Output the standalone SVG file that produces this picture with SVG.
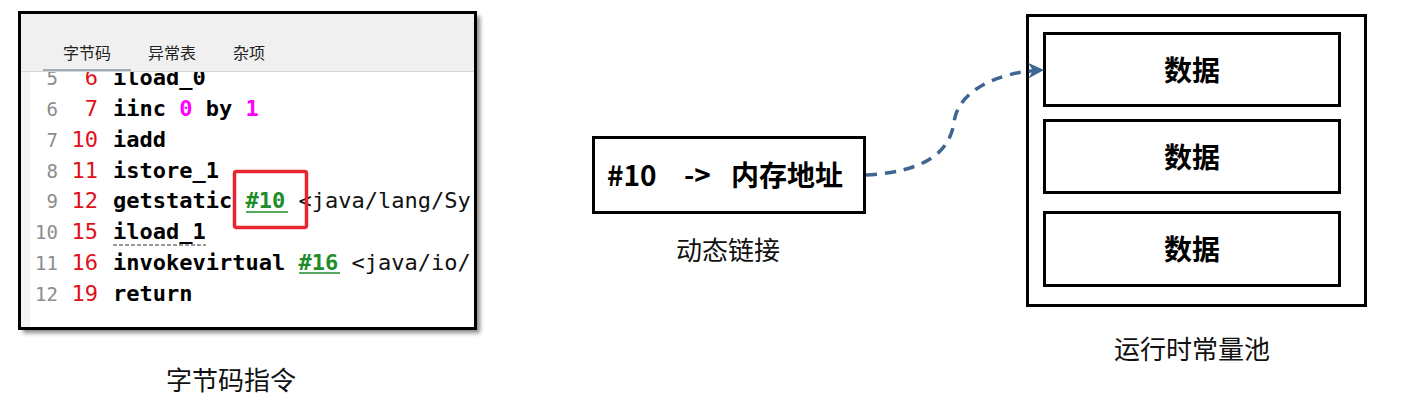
<svg xmlns="http://www.w3.org/2000/svg" width="1410" height="408" viewBox="0 0 1410 408">
<style>
.mono{font-family:"DejaVu Sans Mono","Liberation Mono",monospace;font-size:22px}
.ln{fill:#8c8c8c;font-size:19px}
.off{fill:#e0101a}
.ins{font-weight:bold;fill:#000}
.num{fill:#ff00ff}
.ref{fill:#1e8c2a}
.plain{font-weight:normal;fill:#111}
.tab{font-family:"Noto Sans CJK SC","Noto Sans",sans-serif;font-size:16px;fill:#222}
.cap{font-family:"Noto Sans CJK SC","Noto Sans",sans-serif;font-size:26px;fill:#111}
.bold{font-family:"Noto Sans CJK SC","Noto Sans",sans-serif;font-size:28px;font-weight:bold;fill:#000}
.box{fill:#fff;stroke:#000;stroke-width:3}
</style>
<defs>
<filter id="sh" x="-5%" y="-5%" width="115%" height="115%"><feGaussianBlur stdDeviation="2"/></filter>
<clipPath id="codeclip"><rect x="30" y="72" width="442" height="255"/></clipPath>
<marker id="ah" viewBox="0 0 16 16" markerWidth="16" markerHeight="16" refX="15" refY="8" orient="auto" markerUnits="userSpaceOnUse">
<path d="M0,0 L16,8 L0,16 L5,8 Z" fill="#3f6592"/>
</marker>
</defs>

<g id="bytecode-panel">
<rect x="23" y="16" width="457" height="317" fill="#888" filter="url(#sh)"/>
<rect x="19.5" y="12.5" width="456" height="316" fill="#fff" stroke="#000" stroke-width="3"/>
<rect x="21" y="14" width="453" height="57" fill="#f0f0f0"/>
<line x1="21" y1="71.5" x2="474" y2="71.5" stroke="#d6d6d6" stroke-width="1"/>
<rect x="21" y="72" width="9" height="255" fill="#f4f4f4"/>
<line x1="43" y1="70" x2="131" y2="70" stroke="#a3acb9" stroke-width="2"/>
<text class="tab" x="63" y="59">字节码</text>
<text class="tab" x="148" y="59">异常表</text>
<text class="tab" x="233" y="59">杂项</text>
<g clip-path="url(#codeclip)" class="mono">
<text class="mono ln" x="58" y="85" text-anchor="end">5</text>
<text class="mono off" x="98" y="85" text-anchor="end">6</text>
<text class="mono ins" x="113" y="85">iload_0</text>

<text class="mono ln" x="58" y="116" text-anchor="end">6</text>
<text class="mono off" x="98" y="116" text-anchor="end">7</text>
<text class="mono ins" x="113" y="116" xml:space="preserve">iinc <tspan class="num">0</tspan> by <tspan class="num">1</tspan></text>

<text class="mono ln" x="58" y="147" text-anchor="end">7</text>
<text class="mono off" x="98" y="147" text-anchor="end">10</text>
<text class="mono ins" x="113" y="147">iadd</text>

<text class="mono ln" x="58" y="178" text-anchor="end">8</text>
<text class="mono off" x="98" y="178" text-anchor="end">11</text>
<text class="mono ins" x="113" y="178">istore_1</text>

<text class="mono ln" x="58" y="208" text-anchor="end">9</text>
<text class="mono off" x="98" y="208" text-anchor="end">12</text>
<text class="mono ins" x="113" y="208" xml:space="preserve">getstatic <tspan class="ref">#10</tspan> <tspan class="plain">&lt;java/lang/System.out&gt;</tspan></text>
<line x1="246" y1="212" x2="288" y2="212" stroke="#1e8c2a" stroke-width="1.5"/>

<text class="mono ln" x="58" y="239" text-anchor="end">10</text>
<text class="mono off" x="98" y="239" text-anchor="end">15</text>
<text class="mono ins" x="113" y="239">iload_1</text>
<line x1="113" y1="245" x2="206" y2="245" stroke="#333" stroke-width="1" stroke-dasharray="4,2"/>

<text class="mono ln" x="58" y="270" text-anchor="end">11</text>
<text class="mono off" x="98" y="270" text-anchor="end">16</text>
<text class="mono ins" x="113" y="270" xml:space="preserve">invokevirtual <tspan class="ref">#16</tspan> <tspan class="plain">&lt;java/io/PrintStream&gt;</tspan></text>
<line x1="299" y1="273" x2="340" y2="273" stroke="#1e8c2a" stroke-width="1.5"/>

<text class="mono ln" x="58" y="301" text-anchor="end">12</text>
<text class="mono off" x="98" y="301" text-anchor="end">19</text>
<text class="mono ins" x="113" y="301">return</text>
</g>
<rect x="234.5" y="171.5" width="72" height="56" rx="2" fill="none" stroke="#e8262e" stroke-width="3.5"/>
<text class="cap" x="231" y="390" text-anchor="middle">字节码指令</text>
</g>

<g id="dynamic-link">
<rect class="box" x="593.5" y="137.5" width="271" height="75"/>
<text class="bold" y="186"><tspan x="607">#10</tspan><tspan x="684">-&gt;</tspan><tspan x="731">内存地址</tspan></text>
<text class="cap" x="728" y="260" text-anchor="middle">动态链接</text>
</g>

<g id="constant-pool">
<rect class="box" x="1027.5" y="15.5" width="338" height="290"/>
<g id="data-1">
<rect class="box" x="1044.5" y="33.5" width="295" height="72"/>
<text class="bold" x="1192" y="81" text-anchor="middle">数据</text>
</g>
<g id="data-2">
<rect class="box" x="1044.5" y="120.5" width="295" height="72"/>
<text class="bold" x="1192" y="168" text-anchor="middle">数据</text>
</g>
<g id="data-3">
<rect class="box" x="1044.5" y="212.5" width="295" height="73"/>
<text class="bold" x="1192" y="260" text-anchor="middle">数据</text>
</g>
<text class="cap" x="1192" y="359" text-anchor="middle">运行时常量池</text>
</g>

<g id="connectors">
<path d="M866,175 C925,172 950,152 954,122 C958,92 995,72 1043,70" fill="none" stroke="#3f6592" stroke-width="3.5" stroke-dasharray="11,8" marker-end="url(#ah)"/>
</g>
</svg>
